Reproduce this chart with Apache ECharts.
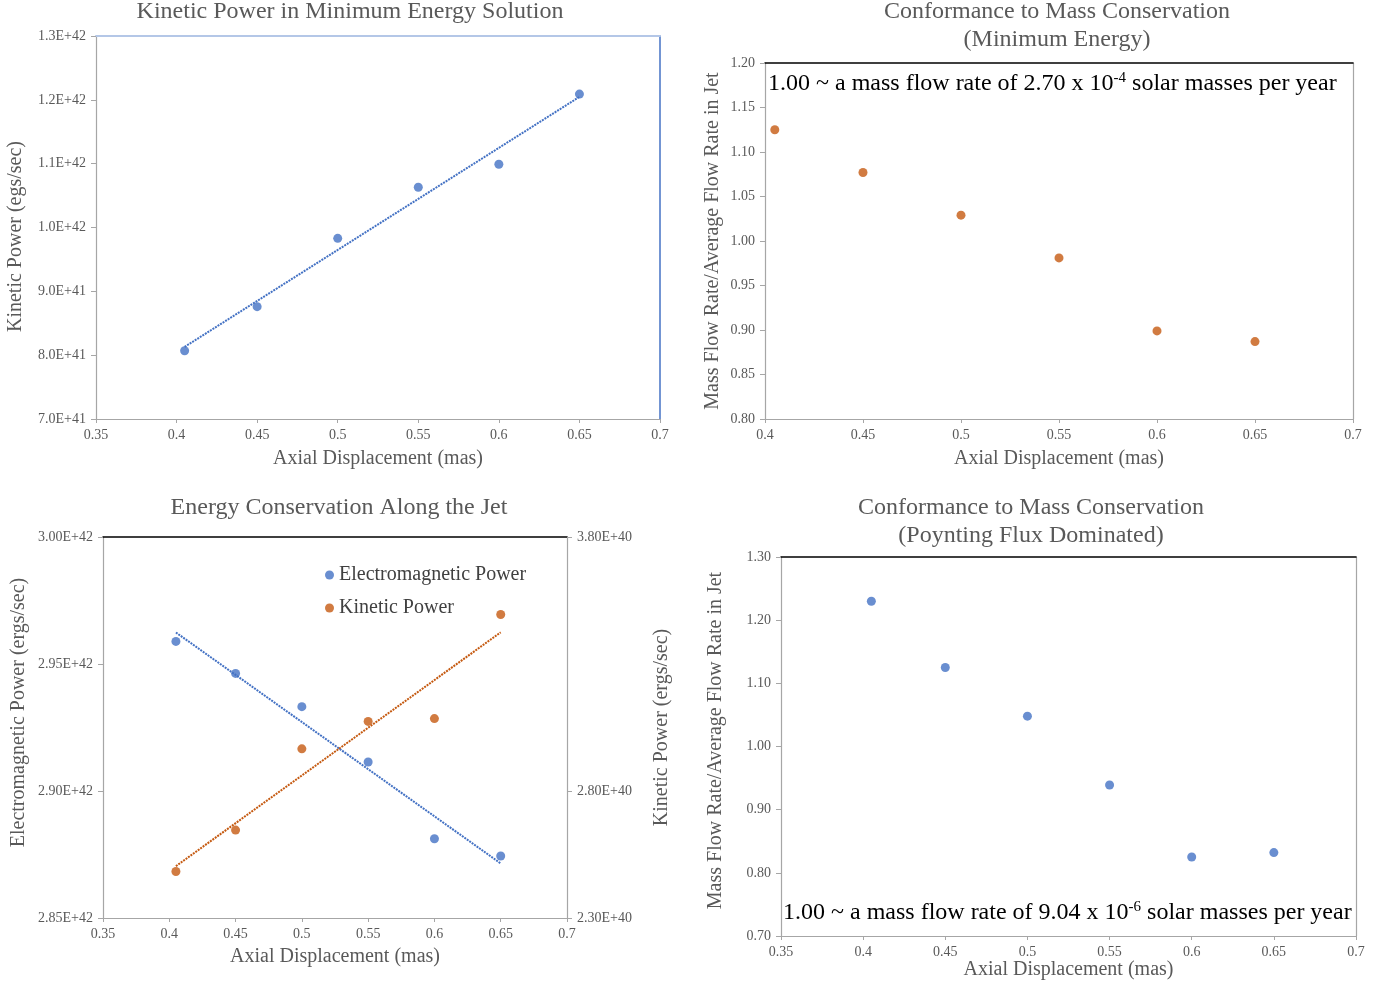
<!DOCTYPE html>
<html>
<head>
<meta charset="utf-8">
<script src="https://cdn.jsdelivr.net/npm/echarts@6/dist/echarts.min.js"></script>
<style>
  html, body { margin: 0; padding: 0; background: #fff; }
  #main { width: 1390px; height: 986px; }
</style>
</head>
<body>
<div id="main"></div>
<script>
// axial displacement of the measured components (mas)
var xPos = [0.405, 0.45, 0.5, 0.55, 0.6, 0.65];
// top left: kinetic power, minimum energy solution (ergs/sec)
var kineticMinEnergy = [8.07e41, 8.76e41, 9.83e41, 10.63e41, 10.99e41, 12.09e41];
// top right: mass flow ratio, minimum energy
var massRatioMinEnergy = [1.125, 1.077, 1.029, 0.981, 0.899, 0.887];
// bottom left: energy conservation along the jet
var emPower = [2.9589e42, 2.9463e42, 2.9332e42, 2.9114e42, 2.8812e42, 2.8744e42];
var kineticPower = [2.483e40, 2.646e40, 2.966e40, 3.074e40, 3.085e40, 3.495e40];
// bottom right: mass flow ratio, poynting flux dominated
var massRatioPoynting = [1.230, 1.125, 1.048, 0.939, 0.825, 0.832];

var BLUE = '#4472C4';
var ORANGE = '#C55A11';
var GREY = '#595959';
var FONT = '"Liberation Serif", "Times New Roman", serif';

function pairs(xs, ys) {
  return xs.map(function (x, i) { return [x, ys[i]]; });
}

// linear least squares trendline between first and last x
function trend(xs, ys) {
  var n = xs.length, mx = 0, my = 0;
  for (var i = 0; i < n; i++) { mx += xs[i]; my += ys[i]; }
  mx /= n; my /= n;
  var sxy = 0, sxx = 0;
  for (i = 0; i < n; i++) { sxy += (xs[i] - mx) * (ys[i] - my); sxx += (xs[i] - mx) * (xs[i] - mx); }
  var b = sxy / sxx, a = my - b * mx;
  var x0 = Math.min.apply(null, xs), x1 = Math.max.apply(null, xs);
  return [[x0, a + b * x0], [x1, a + b * x1]];
}

function expFmt(digits) {
  return function (v) { return v.toExponential(digits).replace('e', 'E'); };
}

function mainX(grid, min, name, gap) {
  return {
    type: 'value', gridIndex: grid, min: min, max: 0.7, interval: 0.05,
    name: name, nameLocation: 'middle', nameGap: gap,
    nameTextStyle: { fontFamily: FONT, fontSize: 20, color: GREY },
    axisLine: { lineStyle: { color: '#A6A6A6', width: 1.2 } },
    axisTick: { show: true, length: 4, lineStyle: { color: '#A6A6A6' } },
    axisLabel: { fontFamily: FONT, fontSize: 14, color: GREY, margin: 9,
      formatter: function (v) { return String(+v.toFixed(2)); } },
    splitLine: { show: false }
  };
}

function borderX(grid, min, color, width) {
  return {
    type: 'value', gridIndex: grid, position: 'top', min: min, max: 0.7,
    axisLine: { lineStyle: { color: color, width: width } },
    axisTick: { show: false }, axisLabel: { show: false }, splitLine: { show: false }
  };
}

// pad shifts the rotated axis name along the axis
function mainY(grid, min, max, interval, fmt, name, gap, pad) {
  return {
    type: 'value', gridIndex: grid, min: min, max: max, interval: interval,
    name: name, nameLocation: 'middle', nameGap: gap,
    nameTextStyle: { fontFamily: FONT, fontSize: 20, color: GREY, padding: pad || 0 },
    axisLine: { show: true, lineStyle: { color: '#A6A6A6', width: 1.2 } },
    axisTick: { show: true, length: 5, lineStyle: { color: '#A6A6A6' } },
    axisLabel: { fontFamily: FONT, fontSize: 14, color: GREY, margin: 10, formatter: fmt },
    splitLine: { show: false }
  };
}

function borderY(grid, min, max, color, width) {
  return {
    type: 'value', gridIndex: grid, position: 'right', min: min, max: max,
    axisLine: { show: true, lineStyle: { color: color, width: width } },
    axisTick: { show: false }, axisLabel: { show: false }, splitLine: { show: false }
  };
}

function scatter(name, xi, yi, xs, ys, color) {
  return {
    name: name, type: 'scatter', xAxisIndex: xi, yAxisIndex: yi,
    symbolSize: 9, itemStyle: { color: color }, data: pairs(xs, ys), z: 3
  };
}

function trendLine(name, xi, yi, xs, ys, color) {
  return {
    name: name, type: 'line', xAxisIndex: xi, yAxisIndex: yi, symbol: 'none',
    silent: true, lineStyle: { color: color, width: 2, type: [2, 1] },
    data: trend(xs, ys), z: 2
  };
}

function titleText(x, y, text) {
  return {
    type: 'text', x: x, y: y,
    style: { text: text, align: 'center', verticalAlign: 'top', lineHeight: 28,
      fontFamily: FONT, fontSize: 24, fill: GREY }
  };
}

function noteText(x, y, mant, exp) {
  return {
    type: 'text', x: x, y: y,
    style: {
      text: '{n|1.00 ~ a mass flow rate of ' + mant + ' x 10}{s|' + exp + '}{n| solar masses per year}',
      verticalAlign: 'middle',
      rich: {
        n: { fontFamily: FONT, fontSize: 24, fill: '#000', color: '#000' },
        s: { fontFamily: FONT, fontSize: 15, fill: '#000', color: '#000', padding: [0, 0, 12, 0] }
      }
    }
  };
}

var chart = echarts.init(document.getElementById('main'));

var option = {
  animation: false,
  backgroundColor: '#fff',
  grid: [
    { left: 96, top: 36, width: 564, height: 383 },
    { left: 765, top: 63, width: 588, height: 356 },
    { left: 103, top: 537, width: 464, height: 381 },
    { left: 781, top: 557, width: 575, height: 379 }
  ],
  xAxis: [
    mainX(0, 0.35, 'Axial Displacement (mas)', 30),
    borderX(0, 0.35, '#B4C7E7', 2),
    mainX(1, 0.4, 'Axial Displacement (mas)', 30),
    borderX(1, 0.4, '#000', 1.5),
    mainX(2, 0.35, 'Axial Displacement (mas)', 29),
    borderX(2, 0.35, '#000', 1.5),
    mainX(3, 0.35, 'Axial Displacement (mas)', 22),
    borderX(3, 0.35, '#000', 1.5)
  ],
  yAxis: [
    mainY(0, 7e41, 1.3e42, 1e41, expFmt(1), 'Kinetic Power (egs/sec)', 70, [0, 18, 0, 0]),
    borderY(0, 7e41, 1.3e42, BLUE, 1.5),
    mainY(1, 0.8, 1.2, 0.05, function (v) { return v.toFixed(2); }, 'Mass Flow Rate/Average Flow Rate in Jet', 42),
    borderY(1, 0.8, 1.2, '#A6A6A6', 1.2),
    mainY(2, 2.85e42, 3.0e42, 5e40, expFmt(2), 'Electromagnetic Power (ergs/sec)', 74, [0, 0, 0, 30]),
    (function () {
      var ax = mainY(2, 2.3e40, 3.8e40, null, expFmt(2), 'Kinetic Power (ergs/sec)', 85);
      delete ax.interval;
      ax.position = 'right';
      ax.alignTicks = true;
      return ax;
    })(),
    mainY(3, 0.7, 1.3, 0.1, function (v) { return v.toFixed(2); }, 'Mass Flow Rate/Average Flow Rate in Jet', 55, [0, 0, 0, 12]),
    borderY(3, 0.7, 1.3, '#A6A6A6', 1.2)
  ],
  legend: {
    data: ['Electromagnetic Power', 'Kinetic Power'],
    orient: 'vertical', left: 320, top: 560, itemGap: 13,
    icon: 'circle', itemWidth: 9, itemHeight: 9,
    textStyle: { fontFamily: FONT, fontSize: 20, color: '#404040' }
  },
  series: [
    trendLine('trend KP min', 0, 0, xPos, kineticMinEnergy, BLUE),
    scatter('Kinetic Power (min energy)', 0, 0, xPos, kineticMinEnergy, BLUE),
    scatter('Mass ratio (min energy)', 2, 2, xPos, massRatioMinEnergy, ORANGE),
    trendLine('trend EM', 4, 4, xPos, emPower, BLUE),
    trendLine('trend KP', 4, 5, xPos, kineticPower, ORANGE),
    scatter('Electromagnetic Power', 4, 4, xPos, emPower, BLUE),
    scatter('Kinetic Power', 4, 5, xPos, kineticPower, ORANGE),
    scatter('Mass ratio (poynting)', 6, 6, xPos, massRatioPoynting, BLUE)
  ],
  graphic: [
    titleText(350, -2, 'Kinetic Power in Minimum Energy Solution'),
    titleText(1057, -2, 'Conformance to Mass Conservation\n(Minimum Energy)'),
    titleText(339, 494, 'Energy Conservation Along the Jet'),
    titleText(1031, 494, 'Conformance to Mass Conservation\n(Poynting Flux Dominated)'),
    noteText(768, 84, '2.70', '-4'),
    noteText(783, 913, '9.04', '-6')
  ]
};

chart.setOption(option);
</script>
</body>
</html>
